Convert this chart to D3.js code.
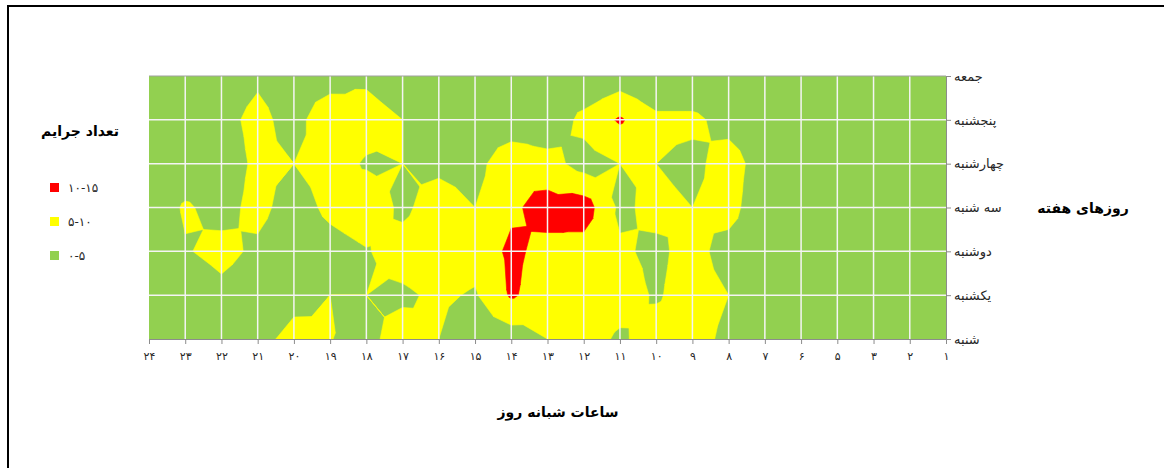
<!DOCTYPE html>
<html>
<head>
<meta charset="utf-8">
<script src="https://cdn.jsdelivr.net/npm/d3@7"></script>
<style>
  body { margin: 0; background: #fff; }
  text { font-family: "DejaVu Sans", sans-serif; }
</style>
</head>
<body>
<svg id="chart"></svg>
<script>
// hours of the day, left to right as in the chart (there is no 4 in it)
var hours = [24, 23, 22, 21, 20, 19, 18, 17, 16, 15, 14, 13, 12, 11, 10, 9, 8, 7, 6, 5, 3, 2, 1]
// days of the week, bottom to top
var days = ["شنبه", "یکشنبه", "دوشنبه", "سه شنبه", "چهارشنبه", "پنجشنبه", "جمعه"]

// crimes per hour for each day (same order as hours)
var shanbe       = [1, 1, 2, 4, 6, 5.1, 3.9, 6.8, 5, 2, 2.4, 5, 7, 4.3, 7, 6.6, 4, 1, 0.5, 0.5, 0.5, 0.5, 0.5]
var yekshanbe    = [1, 1.5, 3.6, 2, 4, 5, 5, 4.3, 5.8, 4.5, 10.6, 7.5, 8, 7, 4.5, 7, 5, 1.5, 0.5, 0.5, 0.5, 0.5, 0.5]
var doshanbe     = [1, 4.6, 6.5, 4, 1.5, 3, 4.7, 6.9, 8, 7, 11, 8.5, 8, 5.7, 4, 6.7, 3, 1, 0.5, 0.5, 0.5, 0.5, 0.5]
var seshanbe     = [1.5, 5.6, 3.3, 6.5, 2.6, 6.2, 8, 4, 7.4, 5, 9.1, 12, 12.5, 4, 6.4, 5, 7, 1, 0.5, 0.5, 0.5, 0.5, 0.5]
var chaharshanbe = [1, 1.5, 2.3, 6, 5, 7, 4.5, 5, 3.8, 3, 9, 7, 3, 5, 5, 3.5, 7.5, 2.1, 1, 0.5, 0.5, 0.5, 0.5]
var panjshanbe   = [1, 1, 3.3, 6.5, 2.9, 9, 7, 5, 2, 1, 1, 1, 6.5, 10.6, 6.2, 6.2, 3, 1, 0.5, 0.5, 0.5, 0.5, 0.5]
var jome         = [1, 1, 2, 4.1, 2, 2.2, 4.1, 2, 1, 0.5, 0.5, 0.5, 0, 2, 0, 0, 0, 0, 0, 0, 0, 0, 0]

var counts = [shanbe, yekshanbe, doshanbe, seshanbe, chaharshanbe, panjshanbe, jome]

var bandLabels = ["۱۰-۱۵", "۵-۱۰", "۰-۵"]
var bandColors = ["#ff0000", "#ffff00", "#92d050"]
var thresholds = [10, 5, 0]

var fa = n => String(n).replace(/\d/g, d => "۰۱۲۳۴۵۶۷۸۹"[d])

var dimensions = {
  width: 1167,
  height: 468,
  left: 149,
  right: 946,
  top: 76,
  bottom: 339
}

var svg = d3.select("#chart")
  .attr("width", dimensions.width)
  .attr("height", dimensions.height)

var xScale = d3.scaleLinear()
  .domain([0, hours.length - 1])
  .range([dimensions.left, dimensions.right])

var yScale = d3.scaleLinear()
  .domain([0, days.length - 1])
  .range([dimensions.bottom, dimensions.top])

// frame lines of the picture
svg.append("line").attr("x1", 8).attr("x2", 1164).attr("y1", 6).attr("y2", 6)
  .attr("stroke", "#000").attr("stroke-width", 2)
svg.append("line").attr("x1", 8).attr("x2", 8).attr("y1", 5).attr("y2", 468)
  .attr("stroke", "#000").attr("stroke-width", 2)

// lowest band fills the whole plot
svg.append("rect")
  .attr("x", dimensions.left)
  .attr("y", dimensions.top)
  .attr("width", dimensions.right - dimensions.left)
  .attr("height", dimensions.bottom - dimensions.top)
  .attr("fill", bandColors[2])

// each grid cell is split in 4 triangles round its centre, then cut at the level
function cut(poly, t) {
  var out = []
  for (var n = 0; n < poly.length; n++) {
    var p = poly[n], q = poly[(n + 1) % poly.length]
    var pin = p[2] >= t, qin = q[2] >= t
    if (pin) out.push(p)
    if (pin !== qin) {
      var s = (t - p[2]) / (q[2] - p[2])
      out.push([p[0] + s * (q[0] - p[0]), p[1] + s * (q[1] - p[1]), t])
    }
  }
  return out
}

var line = d3.line().x(p => xScale(p[0])).y(p => yScale(p[1]))

function levelPath(t) {
  var d = ""
  for (var j = 0; j < days.length - 1; j++) {
    for (var i = 0; i < hours.length - 1; i++) {
      var a = [i, j, counts[j][i]]
      var b = [i + 1, j, counts[j][i + 1]]
      var c = [i + 1, j + 1, counts[j + 1][i + 1]]
      var e = [i, j + 1, counts[j + 1][i]]
      var m = [i + 0.5, j + 0.5, (a[2] + b[2] + c[2] + e[2]) / 4]
      ;[[a, b, m], [b, c, m], [c, e, m], [e, a, m]].forEach(tri => {
        var piece = cut(tri, t)
        if (piece.length > 2) d += line(piece) + "Z"
      })
    }
  }
  return d
}

;[1, 0].forEach(k => {
  svg.append("path")
    .attr("d", levelPath(thresholds[k]))
    .attr("fill", bandColors[k])
    .attr("stroke", bandColors[k])
    .attr("stroke-width", 0.6)
    .attr("stroke-linejoin", "round")
})

// white grid
svg.append("g")
  .selectAll("line")
  .data(d3.range(1, hours.length - 1))
  .enter()
  .append("line")
  .attr("x1", d => xScale(d)).attr("x2", d => xScale(d))
  .attr("y1", dimensions.top).attr("y2", dimensions.bottom)
  .attr("stroke", "#f4f4f4").attr("stroke-width", 1.5)

svg.append("g")
  .selectAll("line")
  .data(d3.range(1, days.length - 1))
  .enter()
  .append("line")
  .attr("x1", dimensions.left).attr("x2", dimensions.right)
  .attr("y1", d => yScale(d)).attr("y2", d => yScale(d))
  .attr("stroke", "#f4f4f4").attr("stroke-width", 1.5)

svg.append("line")
  .attr("x1", dimensions.left).attr("x2", dimensions.right)
  .attr("y1", dimensions.top).attr("y2", dimensions.top)
  .attr("stroke", "#a0a0a0")

// axes
var xAxisGen = d3.axisBottom(xScale)
  .tickValues(d3.range(hours.length))
  .tickFormat(i => fa(hours[i]))
  .tickSize(5)
  .tickPadding(8)

var xAxis = svg.append("g")
  .attr("transform", `translate(0,${dimensions.bottom})`)
  .call(xAxisGen)

var yAxisGen = d3.axisRight(yScale)
  .tickValues(d3.range(days.length))
  .tickFormat(i => days[i])
  .tickSize(5)
  .tickPadding(3)

var yAxis = svg.append("g")
  .attr("transform", `translate(${dimensions.right},0)`)
  .call(yAxisGen)

;[xAxis, yAxis].forEach(g => {
  g.select(".domain").attr("stroke", "#8c8c8c")
  g.selectAll(".tick line").attr("stroke", "#8c8c8c")
  g.selectAll(".tick text")
    .attr("fill", "#262626")
    .style("font-family", "DejaVu Sans")
})
xAxis.selectAll(".tick text").style("font-size", "11px")
yAxis.selectAll(".tick text").style("font-size", "13px").attr("direction", "ltr")

// titles
svg.append("text")
  .attr("x", 558).attr("y", 417)
  .attr("text-anchor", "middle")
  .style("font-size", "14px").style("font-weight", "bold")
  .text("ساعات شبانه روز")

svg.append("text")
  .attr("x", 1083).attr("y", 213)
  .attr("text-anchor", "middle")
  .style("font-size", "14px").style("font-weight", "bold")
  .text("روزهای هفته")

// legend
svg.append("text")
  .attr("x", 80).attr("y", 136)
  .attr("text-anchor", "middle")
  .style("font-size", "14px").style("font-weight", "bold")
  .text("تعداد جرایم")

var legend = svg.append("g")
  .selectAll("g")
  .data(bandLabels)
  .enter()
  .append("g")
  .attr("transform", (d, i) => `translate(50,${183 + i * 34})`)

legend.append("rect")
  .attr("width", 9).attr("height", 9)
  .attr("fill", (d, i) => bandColors[i])

legend.append("text")
  .attr("x", 18).attr("y", 9)
  .attr("direction", "ltr")
  .style("font-size", "12px")
  .attr("fill", "#262626")
  .text(d => d)
</script>
</body>
</html>
